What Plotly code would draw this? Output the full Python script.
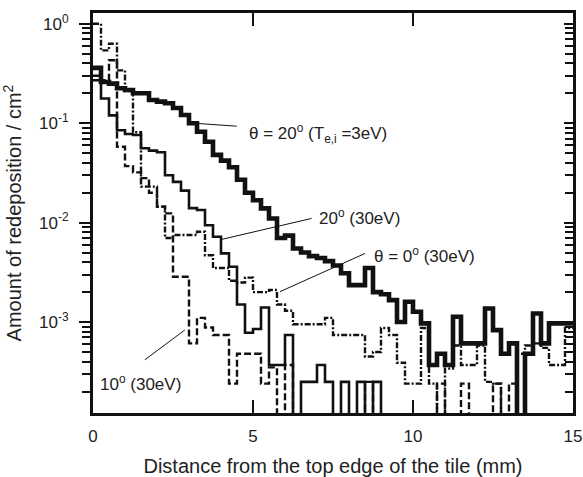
import numpy as np
import plotly.graph_objects as go

Z = 1e-6  # empty bin (drawn down to the bottom of the frame)

bin_width_mm = 0.25
n_bins = 60

# theta = 20 deg, Te,i = 3 eV (thick solid)
theta20_3eV = [0.36, 0.26, 0.25, 0.225, 0.216, 0.20, 0.20, 0.171, 0.165, 0.159,
               0.142, 0.121, 0.100, 0.082, 0.065, 0.048, 0.042, 0.036, 0.027, 0.020,
               0.0168, 0.0139, 0.011, 0.0070, 0.0074, 0.0055, 0.0050, 0.0046, 0.0044, 0.0041,
               0.0037, 0.0031, 0.00235, 0.00235, 0.0035, 0.0020, 0.0019, 0.00166, 0.0010, 0.0016,
               0.00127, 0.00097, 0.00037, 0.00048, 0.00037, 0.00113, 0.00061, 0.00061, 0.00061, 0.00137,
               0.00083, 0.00048, 0.00061, Z, 0.00048, 0.00122, 0.00061, 0.00097, 0.00097, 0.00097]

# 20 deg, 30 eV (thin solid)
theta20_30eV = [0.27, 0.177, 0.12, 0.085, 0.078, 0.076, 0.056, 0.053, 0.051, 0.030,
                0.0257, 0.021, 0.014, 0.0134, 0.0094, 0.0072, 0.0049, 0.0036, 0.0015, 0.00078,
                0.00085, 0.0014, 0.00037, 0.00037, 0.00074, Z, 0.00025, 0.00025, 0.00037, 0.00025,
                Z, 0.00025, Z, 0.00025, Z, 0.00025, Z, Z, Z, Z,
                Z, Z, Z, Z, Z, Z, Z, Z, Z, Z,
                Z, Z, Z, Z, Z, Z, Z, Z, Z, Z]

# theta = 0 deg, 30 eV (dash-dot)
theta0_30eV = [1.0, 0.54, 0.63, 0.34, 0.21, 0.081, 0.023, 0.023, 0.0145, 0.0070,
               0.0075, 0.0075, 0.0075, 0.0081, 0.0047, 0.0035, 0.0035, 0.0026, 0.0025, 0.0028,
               0.0020, 0.0020, 0.0021, 0.0015, 0.0013, 0.00095, 0.00095, 0.00095, 0.00095, 0.0011,
               0.00074, 0.00074, 0.00074, 0.00074, 0.00045, 0.0005, 0.00087, 0.00074, 0.00039, 0.00024,
               0.00024, 0.00087, 0.00024, Z, 0.00034, 0.00058, 0.00037, 0.00037, 0.00058, 0.00025,
               0.00024, Z, Z, 0.00048, 0.00058, 0.00061, 0.00055, 0.00037, 0.00037, 0.00087]

# 10 deg, 30 eV (dashed)
theta10_30eV = [0.30, 0.27, 0.43, 0.058, 0.037, 0.032, 0.028, 0.020, 0.0145, 0.0124,
                0.00285, 0.00285, 0.00061, 0.0011, 0.00088, 0.00074, 0.00074, 0.00024, 0.00048, 0.00048,
                0.00048, 0.00024, 0.00035, Z, 0.00037, Z, Z, Z, Z, Z,
                Z, Z, Z, Z, 0.00025, Z, Z, Z, Z, Z,
                Z, Z, Z, 0.00024, Z, Z, 0.00024, Z, Z, Z,
                0.00024, Z, 0.00024, Z, Z, Z, Z, Z, Z, Z]

y_tick_vals = [1, 0.1, 0.01, 0.001]
y_tick_text = ["10<sup>0</sup>", "10<sup>-1</sup>", "10<sup>-2</sup>", "10<sup>-3</sup>"]
x_tick_vals = [0, 5, 10, 15]

edges = np.arange(n_bins + 1) * bin_width_mm
Y_RANGE = [-3.915, 0.1085]
INK = "#111111"


def step_y(vals):
    return list(vals) + [vals[-1]]


fig = go.Figure()
series = [
    (theta10_30eV, dict(width=2.4, dash="7px,3px")),
    (theta0_30eV, dict(width=2.4, dash="6px,2px,2px,2px")),
    (theta20_30eV, dict(width=2.6)),
    (theta20_3eV, dict(width=4.6)),
]
for vals, ln in series:
    fig.add_trace(go.Scatter(x=edges, y=step_y(vals), mode="lines", line_shape="hv",
                             line=dict(color=INK, **ln), showlegend=False,
                             hoverinfo="skip"))

# label pointers (x in mm, y in log10 units); drawn on the right-hand y axis (same scale)
pointers = [
    ((3.29, -1.003), (4.49, -1.03)),
    ((4.02, -2.169), (6.83, -1.958)),
    ((5.84, -2.695), (8.50, -2.31)),
    ((1.62, -3.38), (2.87, -3.08)),
]
for (x0, ly0), (x1, ly1) in pointers:
    fig.add_trace(go.Scatter(x=[x0, x1], y=[10 ** ly0, 10 ** ly1], mode="lines",
                             line=dict(color=INK, width=1), showlegend=False,
                             hoverinfo="skip", yaxis="y2"))

labels = [
    (4.81, -1.10, "θ = 20<sup>o</sup> (T<sub>e,i</sub> =3eV)"),
    (6.99, -1.945, "20<sup>o</sup> (30eV)"),
    (8.71, -2.327, "θ = 0<sup>o</sup> (30eV)"),
    (0.16, -3.613, "10<sup>o</sup> (30eV)"),
]
for x, ly, t in labels:
    fig.add_annotation(x=x, y=ly, text=t, showarrow=False, xanchor="left",
                       yanchor="middle", font=dict(size=17, color="#222222"))

minor_vals = [m * 10.0 ** e for e in range(-4, 1) for m in range(2, 10)]

fig.update_layout(
    width=583, height=477,
    margin=dict(l=93, r=10, t=13, b=64),
    paper_bgcolor="white", plot_bgcolor="white",
    font=dict(family="Liberation Sans, Arial, sans-serif", size=17, color="#222222"),
    xaxis=dict(range=[0, 15], tickmode="array", tickvals=x_tick_vals,
               ticks="inside", ticklen=13, tickwidth=2.4, tickcolor=INK,
               showline=True, linewidth=3, linecolor=INK, mirror="ticks",
               showgrid=False, zeroline=False, automargin=False,
               ticklabelstandoff=6,
               title=dict(text="Distance from the top edge of the tile (mm)", standoff=14),
               tickfont=dict(size=17)),
    yaxis=dict(type="log", range=Y_RANGE, tickmode="array",
               tickvals=y_tick_vals, ticktext=y_tick_text,
               ticks="outside", ticklen=11, tickwidth=2.4, tickcolor=INK,
               minor=dict(tickmode="array", tickvals=minor_vals, ticks="outside",
                          ticklen=8, tickwidth=2.4, tickcolor=INK, showgrid=False),
               showline=True, linewidth=3, linecolor=INK, mirror=True,
               showgrid=False, zeroline=False, automargin=False,
               ticklabelstandoff=7,
               title=dict(text="Amount of redeposition / cm<sup>2</sup>", standoff=22),
               tickfont=dict(size=17)),
    yaxis2=dict(type="log", range=Y_RANGE, overlaying="y", side="right",
                tickmode="array", tickvals=y_tick_vals, showticklabels=False,
                ticks="inside", ticklen=9, tickwidth=2.4, tickcolor=INK,
                minor=dict(tickmode="array", tickvals=minor_vals, ticks="inside",
                           ticklen=8, tickwidth=2.4, tickcolor=INK, showgrid=False),
                showline=False, showgrid=False, zeroline=False, automargin=False),
)

fig.write_html("out.html", config={"displayModeBar": False},
               post_script="document.body.style.margin='0';")
